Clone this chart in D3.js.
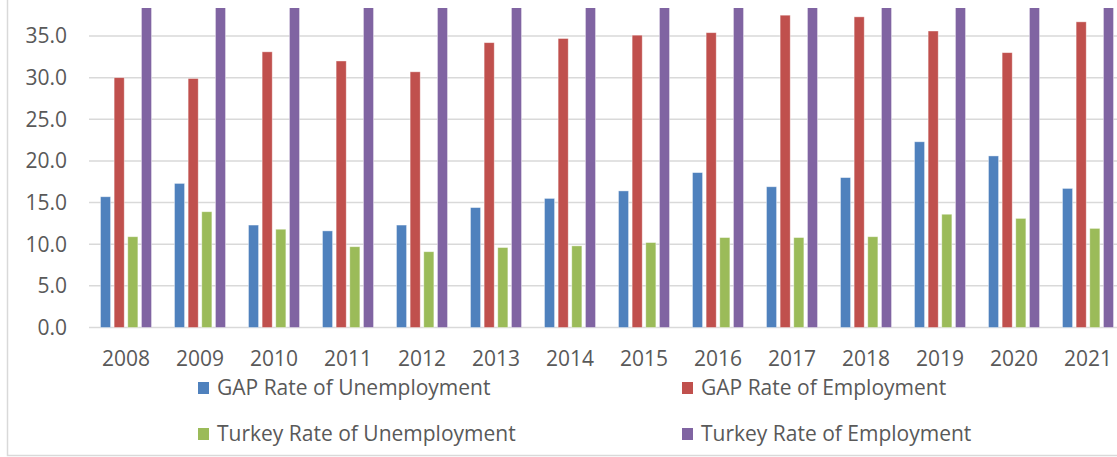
<!DOCTYPE html>
<html>
<head>
<meta charset="utf-8">
<script src="https://cdn.jsdelivr.net/npm/d3@7"></script>
<style>
  body { margin: 0; background: #fff; }
  svg text { font-family: "Open Sans", "Liberation Sans", sans-serif; fill: #595959; }
</style>
</head>
<body>
<div class="chart"></div>
<script>
const years = ["2008","2009","2010","2011","2012","2013","2014","2015","2016","2017","2018","2019","2020","2021"];
const seriesNames = ["GAP Rate of Unemployment", "GAP Rate of Employment", "Turkey Rate of Unemployment", "Turkey Rate of Employment"];
const gapUnemp = [15.7, 17.3, 12.3, 11.6, 12.3, 14.4, 15.5, 16.4, 18.6, 16.9, 18.0, 22.3, 20.6, 16.7];
const gapEmp = [30.0, 29.9, 33.1, 32.0, 30.7, 34.2, 34.7, 35.1, 35.4, 37.5, 37.3, 35.6, 33.0, 36.7];
const trUnemp = [10.9, 13.9, 11.8, 9.7, 9.1, 9.6, 9.8, 10.2, 10.8, 10.8, 10.9, 13.6, 13.1, 11.9];
// clipped above the plot in the source picture
const trEmp = [41.7, 41.2, 43.0, 45.0, 45.4, 45.9, 45.5, 46.3, 46.3, 47.1, 47.4, 45.7, 42.8, 44.9];
const yTicks = [0, 5, 10, 15, 20, 25, 30, 35];
const colors = ["#4F81BD", "#C0504D", "#9BBB59", "#8064A2"];

const W = 1117, H = 457;
const allSeries = [gapUnemp, gapEmp, trUnemp, trEmp];

const svg = d3.select(".chart").append("svg")
    .attr("width", W).attr("height", H);

// outer frame (left + bottom visible)
svg.append("path")
    .attr("d", "M7.5,0 V455.5 H" + W)
    .attr("fill", "none")
    .attr("stroke", "#d9d9d9")
    .attr("stroke-width", 1.5);

const xScale = d3.scaleBand()
    .domain(years)
    .range([89, 89 + 74 * years.length])
    .paddingInner(0.31)
    .paddingOuter(0.155);

const xInner = d3.scaleBand()
    .domain(d3.range(4))
    .range([0, xScale.bandwidth()])
    .paddingInner(0.26);

const yScale = d3.scaleLinear()
    .domain([0, 35])
    .range([327.5, 36]);

// gridlines
svg.append("g")
    .selectAll("line")
    .data(yTicks)
    .enter()
    .append("line")
    .attr("x1", 89).attr("x2", W)
    .attr("y1", d => yScale(d)).attr("y2", d => yScale(d))
    .attr("stroke", "#d9d9d9")
    .attr("stroke-width", 1.5);

// y tick labels
svg.append("g")
    .selectAll("text")
    .data(yTicks)
    .enter()
    .append("text")
    .attr("x", 67)
    .attr("y", d => yScale(d))
    .attr("dy", "0.35em")
    .attr("text-anchor", "end")
    .attr("font-size", 21)
    .text(d => d3.format(".1f")(d));

svg.append("clipPath").attr("id", "plotclip")
    .append("rect")
    .attr("x", 0).attr("y", 8).attr("width", W).attr("height", 330);

const groups = svg.append("g")
    .attr("clip-path", "url(#plotclip)")
    .selectAll("g")
    .data(years)
    .enter()
    .append("g")
    .attr("transform", d => "translate(" + xScale(d) + ",0)");

groups.selectAll("rect")
    .data((d, i) => allSeries.map((s, k) => ({k: k, v: s[i]})))
    .enter()
    .append("rect")
    .attr("x", d => xInner(d.k))
    .attr("width", xInner.bandwidth())
    .attr("y", d => yScale(d.v))
    .attr("height", d => yScale(0) - yScale(d.v))
    .attr("fill", d => colors[d.k])
    .attr("stroke", "#fff")
    .attr("stroke-opacity", 0.5)
    .attr("stroke-width", 0.8);

// x labels
svg.append("g")
    .selectAll("text")
    .data(years)
    .enter()
    .append("text")
    .attr("x", d => xScale(d) + xScale.bandwidth() / 2)
    .attr("y", 366)
    .attr("text-anchor", "middle")
    .attr("font-size", 21)
    .text(d => d);

// legend
const legendPos = [[198, 388], [682, 388], [198, 434], [682, 434]];
const legend = svg.append("g")
    .selectAll("g")
    .data(seriesNames)
    .enter()
    .append("g")
    .attr("transform", (d, i) => "translate(" + legendPos[i][0] + "," + legendPos[i][1] + ")");

legend.append("rect")
    .attr("x", 0).attr("y", -6)
    .attr("width", 11).attr("height", 12)
    .attr("fill", (d, i) => colors[i]);

legend.append("text")
    .attr("x", 19)
    .attr("y", 0)
    .attr("dy", "0.35em")
    .attr("font-size", 21)
    .text(d => d);
</script>
</body>
</html>
